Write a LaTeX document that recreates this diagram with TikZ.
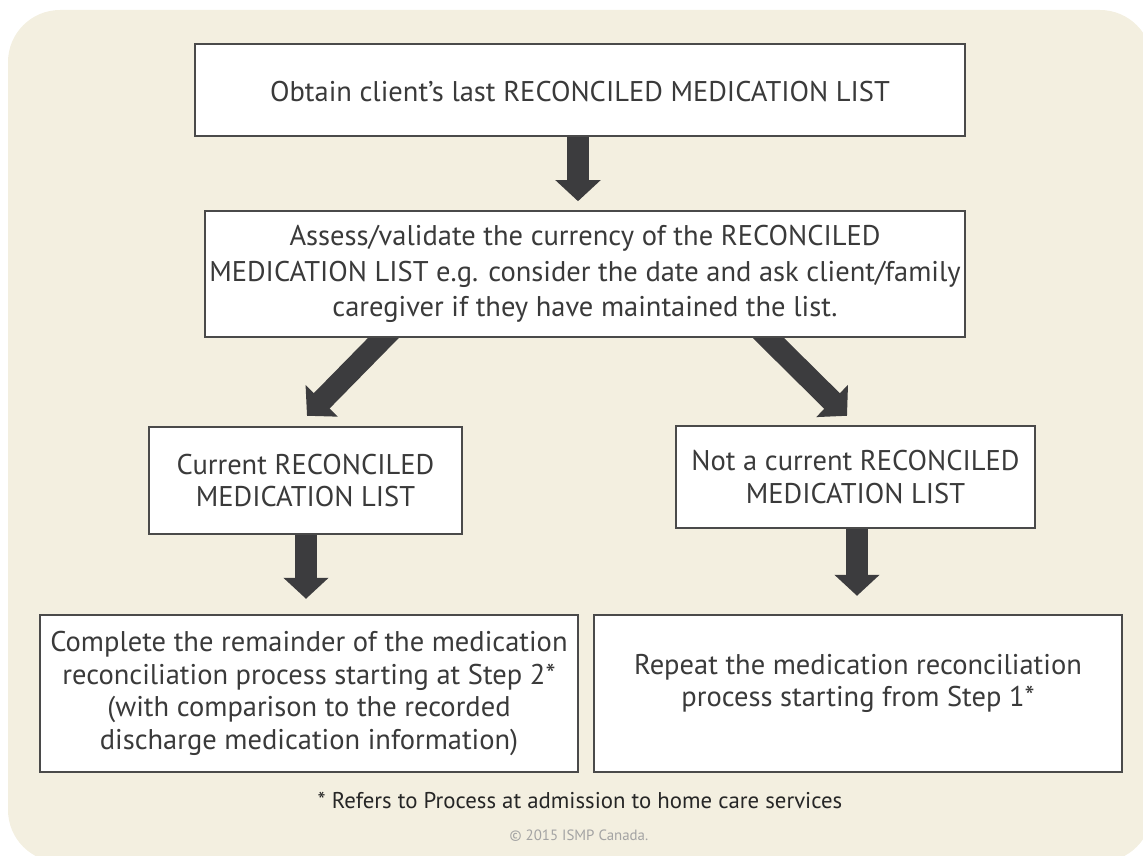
\documentclass[tikz,border=0pt]{standalone}
\usepackage{fontspec}
\setmainfont{PT Sans}
\usetikzlibrary{arrows.meta,calc}
\definecolor{paper}{HTML}{F3EFE0}
\definecolor{ink}{HTML}{3A3A3A}
\definecolor{frame}{HTML}{4A4A4A}
\definecolor{arrowgray}{HTML}{3C3C3E}
\definecolor{note}{HTML}{A3A3A3}
\pgfdeclarelayer{back}
\pgfsetlayers{back,main}
\begin{document}
\begin{tikzpicture}[x=1pt,y=-1pt,
  box/.style={draw=frame, line width=2.4pt, fill=white, inner sep=0pt, align=center, text=ink},
  widetext/.style={font=\fontsize{28.5}{35.5}\selectfont},
  steptext/.style={font=\fontsize{28.5}{32.8}\selectfont},
  flow/.style={draw=arrowgray, line width=22pt, -{Triangle[width=44pt,length=21pt]}},
]
\useasboundingbox (0,0) rectangle (1143,856);

% process steps
\node[box, minimum width=770pt, minimum height=92pt] (obtain) at (580,90) {};
\node[widetext, text=ink] (obtaintext) at ($(obtain.center)+(0,2)$)
  {Obtain client’s last RECONCILED MEDICATION LIST};
\node[box, widetext, minimum width=760pt, minimum height=126pt] (assess) at (585,274)
  {Assess/validate the currency of the RECONCILED\\
   MEDICATION LIST e.g. consider the date and ask client/family\\
   caregiver if they have maintained the list.};
\node[box, steptext, minimum width=313pt, minimum height=107pt] (current) at (305.5,480.5)
  {Current RECONCILED\\MEDICATION LIST};
\node[box, steptext, minimum width=359pt, minimum height=102pt] (notcur) at (855.5,477)
  {Not a current RECONCILED\\MEDICATION LIST};
\node[box, steptext, minimum width=538pt, minimum height=157pt] (complete) at (309,693.5)
  {Complete the remainder of the medication\\
   reconciliation process starting at Step 2*\\
   (with comparison to the recorded\\
   discharge medication information)};
\node[box, minimum width=528pt, minimum height=157pt] (repeat) at (858,693.5) {};
\node[steptext, text=ink, align=center] (repeattext) at ($(repeat.center)+(0,-10)$)
  {Repeat the medication reconciliation\\process starting from Step 1*};

% footnotes
\node[font=\fontsize{22.8}{26}\selectfont, text=black!85] (fn) at (580,800)
  {* Refers to Process at admission to home care services};
\node[font=\fontsize{14.9}{17}\selectfont, text=note] (copy) at (579,836)
  {© 2015 ISMP Canada.};

% panel and block arrows behind the boxes
\begin{pgfonlayer}{back}
  \fill[paper, rounded corners=52pt] (8,10) rectangle (1152,862);
  \draw[flow] ($(obtain.south)+(-2,-8)$) -- ($(obtain.south)+(-2,64)$);
  \draw[flow] ($(assess.south)+(-193,-9)$) -- ($(current.north)+(1.5,-10)$);
  \draw[flow] ($(assess.south)+(175,-8.5)$) -- ($(notcur.north)+(-8.5,-9)$);
  \draw[flow] ($(current.south)+(0.5,-9)$) -- ($(complete.north)+(-3,-15)$);
  \draw[flow] ($(notcur.south)+(1.5,-8)$) -- ($(repeat.north)+(-1,-18)$);
\end{pgfonlayer}
\end{tikzpicture}
\end{document}
